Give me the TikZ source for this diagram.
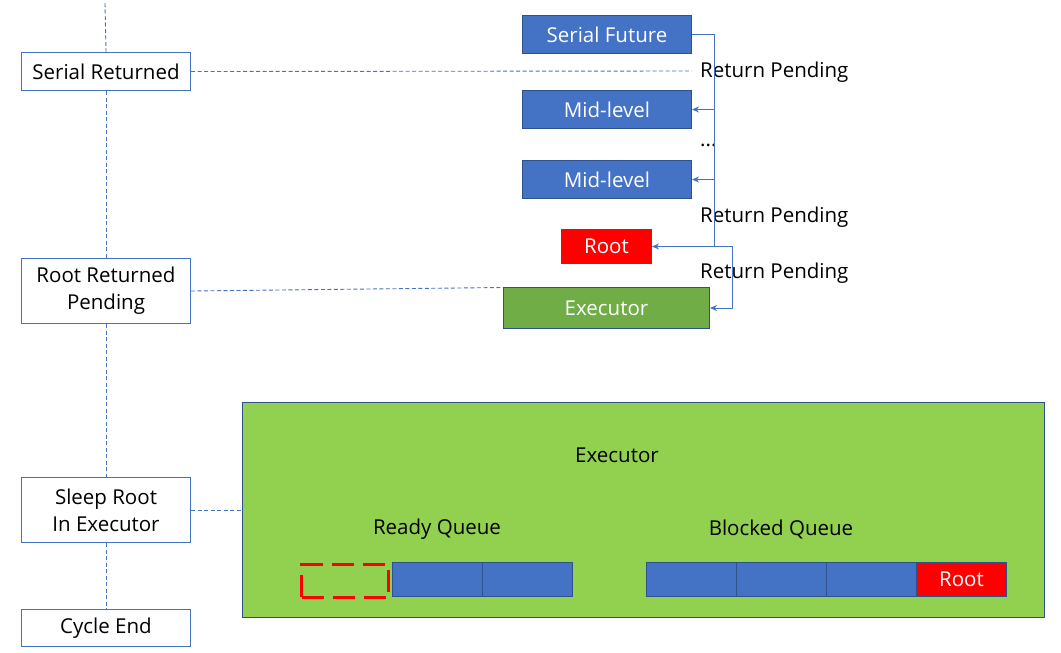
\documentclass[tikz,border=0pt]{standalone}
\usepackage{fontspec}
\setmainfont{Open Sans}
\usetikzlibrary{arrows.meta,calc}
\definecolor{bfill}{HTML}{4472C4}
\definecolor{bdark}{HTML}{2F528F}
\definecolor{gsmall}{HTML}{70AD47}
\definecolor{gbig}{HTML}{92D050}
\tikzset{
  every node/.style={font=\fontsize{20.5}{27}\selectfont},
  stage/.style={draw=bfill, fill=white, line width=1pt, minimum width=169pt, anchor=north west, inner sep=0pt, align=center, text=black},
  bluebox/.style={draw=bdark, fill=bfill, line width=1pt, minimum width=169pt, minimum height=38pt, anchor=north west, inner sep=0pt, text=white},
  redbox/.style={draw=bdark, fill=red, line width=1pt, anchor=north west, inner sep=0pt, text=white},
  cell/.style={draw=bdark, fill=bfill, line width=1pt, minimum width=90pt, minimum height=34pt, anchor=north west, inner sep=0pt},
  dashline/.style={draw=bfill, line width=0.9pt, dash pattern=on 4pt off 2.5pt},
  conn/.style={draw=bfill, line width=1pt, -{Stealth[length=7pt,width=6pt]}},
  lbl/.style={anchor=west, inner sep=0pt, text=black},
}
\begin{document}
\begin{tikzpicture}[x=1pt,y=-1pt]
\useasboundingbox (0,0) rectangle (1061,653);
% left stages
\node[stage, minimum height=38pt] (sr) at (21,52) {Serial Returned};
\node[stage, minimum height=65pt] (rr) at (21,258) {Root Returned\\Pending};
\node[stage, minimum height=65pt] (sl) at (21,477) {Sleep Root\\In Executor};
\node[stage, minimum height=37pt] (ce) at (21,609) {Cycle End};
\coordinate (top) at (105,3);
\draw[dashline] (top) -- (sr.north);
\draw[dashline] (sr.south) -- (rr.north);
\draw[dashline] (rr.south) -- (sl.north);
\draw[dashline] (sl.south) -- (ce.north);
% call stack
\node[bluebox] (sf) at (522,15) {Serial Future};
\node[bluebox] (m1) at (522,90) {Mid-level};
\node[bluebox] (m2) at (522,160) {Mid-level};
\node[redbox, minimum width=90pt, minimum height=34pt] (root) at (561,229) {Root};
\node[draw=bdark, fill=gsmall, line width=1pt, minimum width=206pt, minimum height=41pt, anchor=north west, inner sep=0pt, text=white] (ex) at (503,287) {Executor};
\node[lbl] (rp1) at (700,72) {Return Pending};
\node[lbl] (dots) at (700,145) {...};
\node[lbl] (rp2) at (700,217) {Return Pending};
\node[lbl] (rp3) at (700,273) {Return Pending};
\coordinate (t) at (714,0);
\coordinate (t2) at (732,0);
\draw[conn] (sf.east) -| (t |- m1.east) -- (m1.east);
\draw[conn] (t |- m1.east) -- (t |- m2.east) -- (m2.east);
\draw[conn] (t |- m2.east) |- (root.east);
\draw[conn] (t |- root.east) -| (t2 |- ex.east) -- (ex.east);
% links from stages
\coordinate (srend) at (692,71);
\draw[dashline] (sr.east) -- (srend);
\draw[dashline] (rr.east) -- (ex.north west |- 0,287.5);
% big executor
\node[draw=bdark, fill=gbig, line width=1pt, minimum width=802pt, minimum height=215pt, anchor=north west, inner sep=0pt] (bex) at (242,402) {};
\draw[dashline] (sl.east) -- (sl.east -| bex.west);
\node[inner sep=0pt, text=black] (bext) at (617,455) {Executor};
\node[inner sep=0pt, text=black] (rq) at (437,529) {Ready Queue};
\node[inner sep=0pt, text=black] (bq) at (781,529) {Blocked Queue};
\node[cell] (r1) at (392,562) {};
\node[cell] (r2) at (482,562) {};
\node[draw=red, line width=3pt, dash pattern=on 22pt off 9pt, minimum width=87pt, minimum height=33pt, anchor=north east, inner sep=0pt] (rempty) at (390,563) {};
\node[cell] (b1) at (646,562) {};
\node[cell] (b2) at (736,562) {};
\node[cell] (b3) at (826,562) {};
\node[redbox, minimum width=90pt, minimum height=34pt] (b4) at (916,562) {Root};
\end{tikzpicture}
\end{document}
